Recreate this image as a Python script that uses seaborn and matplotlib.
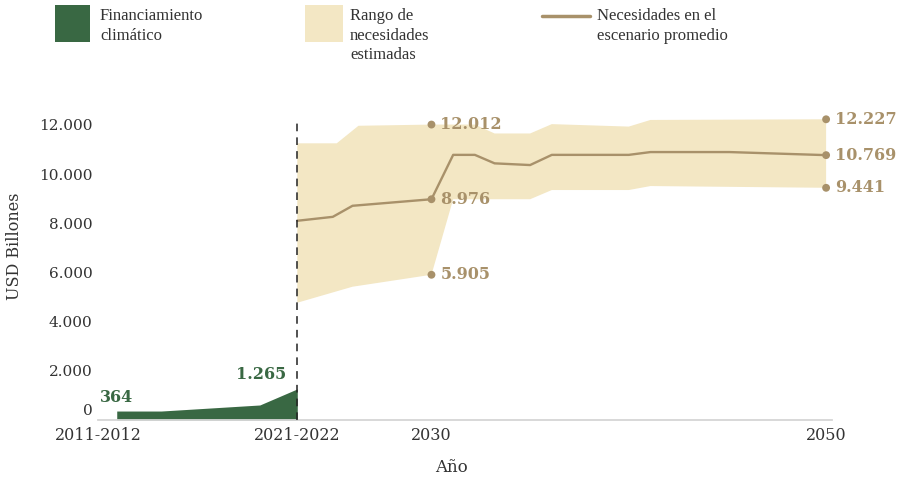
import numpy as np
import pandas as pd
import matplotlib
matplotlib.use("Agg")
import matplotlib.pyplot as plt
from matplotlib.patches import Rectangle
from matplotlib.lines import Line2D
import seaborn as sns

# ---------------- data ----------------
finance_x = [2014.05, 2016.3, 2021.3, 2023.2]
finance_y = [364, 364, 610, 1265]

band_top_x = [2023.2, 2025.2, 2026.3, 2030, 2032.2, 2033.2, 2035.0, 2036.1, 2040.0, 2041.1, 2050]
band_top_y = [11250, 11250, 11963, 12012, 12012, 11650, 11650, 12030, 11930, 12200, 12227]
band_bot_x = [2023.2, 2026.0, 2030, 2031.1, 2035.0, 2036.1, 2040.0, 2041.1, 2050]
band_bot_y = [4768, 5419, 5905, 8976, 8976, 9350, 9350, 9512, 9441]

mid_x = [2023.2, 2025.0, 2026.0, 2030, 2031.1, 2032.2, 2033.2, 2035.0, 2036.1, 2040.0, 2041.1, 2045.1, 2050]
mid_y = [8100, 8260, 8710, 8976, 10780, 10780, 10435, 10366, 10780, 10780, 10894, 10894, 10769]

dots_x = [2030, 2030, 2030, 2050, 2050, 2050]
dots_y = [12012, 8976, 5905, 12227, 10769, 9441]
dots_lbl = ["12.012", "8.976", "5.905", "12.227", "10.769", "9.441"]

fin_lbl_x = [2014.05, 2023.2]
fin_lbl_y = [364, 1265]
fin_lbl = ["364", "1.265"]

xtick_pos = [2013.1, 2023.2, 2030, 2050]
xtick_lbl = ["2011-2012", "2021-2022", "2030", "2050"]
ytick_pos = [0, 2000, 4000, 6000, 8000, 10000, 12000]
ytick_lbl = ["", "2.000", "4.000", "6.000", "8.000", "10.000", "12.000"]

legend_lbl = ["Financiamiento\nclimático", "Rango de\nnecesidades\nestimadas", "Necesidades en el\nescenario promedio"]

# ---------------- style ----------------
sns.set_theme(style="white")
plt.rcParams["font.family"] = ["DejaVu Serif", "DejaVu Sans"]

GREEN = "#396843"
BAND = "#f3e7c4"
TAN = "#a8916a"
TXT = "#333333"

fig = plt.figure(figsize=(8.99, 4.79), dpi=100)
ax = fig.add_axes([0.109, 0.1232, 0.8165, 0.6305])

# financing area
ax.fill_between(finance_x, 0, finance_y, color=GREEN, lw=0, zorder=2)

# needs band
poly_x = list(band_top_x) + list(band_bot_x[::-1])
poly_y = list(band_top_y) + list(band_bot_y[::-1])
ax.fill(poly_x, poly_y, color=BAND, lw=0, zorder=1)

# mid line
df_mid = pd.DataFrame({"x": mid_x, "y": mid_y})
sns.lineplot(data=df_mid, x="x", y="y", ax=ax, color=TAN, lw=1.7, zorder=3,
             estimator=None, sort=False)

# dots
df_dots = pd.DataFrame({"x": dots_x, "y": dots_y})
sns.scatterplot(data=df_dots, x="x", y="y", ax=ax, color=TAN, s=32,
                edgecolor="none", zorder=4, clip_on=False)

for x, y, t in zip(dots_x, dots_y, dots_lbl):
    ax.annotate(t, xy=(x, y), xytext=(9, 0), textcoords="offset pixels",
                ha="left", va="center", fontsize=11.5, fontweight="bold",
                color=TAN, zorder=5, annotation_clip=False)

for x, y, t in zip(fin_lbl_x, fin_lbl_y, fin_lbl):
    ax.annotate(t, xy=(x, y), xytext=(0 if t == "364" else -36, 14),
                textcoords="offset pixels", ha="center", va="center",
                fontsize=11.5, fontweight="bold", color=GREEN, zorder=5,
                annotation_clip=False)

# dashed separator
ax.axvline(2023.2, color="#222222", lw=1.1, ls=(0, (5, 4)), zorder=5)

# axes
ax.set_xlim(2013.1, 2050.3)
ax.set_ylim(0, 12280)
ax.set_xticks(xtick_pos)
ax.set_xticklabels(xtick_lbl, fontsize=11.5, color=TXT)
ax.set_yticks(ytick_pos)
ax.set_yticklabels(ytick_lbl, fontsize=11, color=TXT)
ax.tick_params(axis="both", length=0)
ax.tick_params(axis="y", pad=4)
ax.tick_params(axis="x", pad=5)
ax.annotate("0", xy=(0, 0), xycoords=("axes fraction", "data"),
            xytext=(-5, 9), textcoords="offset pixels", ha="right", va="center",
            fontsize=11, color=TXT)
for s in ["top", "right", "left"]:
    ax.spines[s].set_visible(False)
ax.spines["bottom"].set_color("#d6d6d6")
ax.spines["bottom"].set_linewidth(1.3)
ax.set_xlabel("")
ax.set_ylabel("")
ax.grid(False)

fig.text(451 / 899, 1 - 467 / 479, "Año", ha="center", va="center", fontsize=12, color=TXT)
fig.text(15 / 899, 1 - 246 / 479, "USD Billones", rotation=90, ha="center", va="center",
         fontsize=11.5, color=TXT)

# legend (manual)
H, W = 479.0, 899.0
fig.add_artist(Rectangle((55 / W, 1 - 42 / H), 35 / W, 37 / H, transform=fig.transFigure,
                         color=GREEN, lw=0))
fig.add_artist(Rectangle((305 / W, 1 - 42 / H), 38 / W, 37 / H, transform=fig.transFigure,
                         color=BAND, lw=0))
fig.add_artist(Line2D([542 / W, 590 / W], [1 - 16 / H, 1 - 16 / H], transform=fig.transFigure,
                      color=TAN, lw=2.5))
for lx, t in zip([100, 350, 597], legend_lbl):
    fig.text(lx / W, 1 - 8 / H, t, ha="left", va="top", fontsize=12,
             family=["Liberation Serif", "DejaVu Serif"], color=TXT, linespacing=1.3)

fig.savefig("out.png", dpi=100)
